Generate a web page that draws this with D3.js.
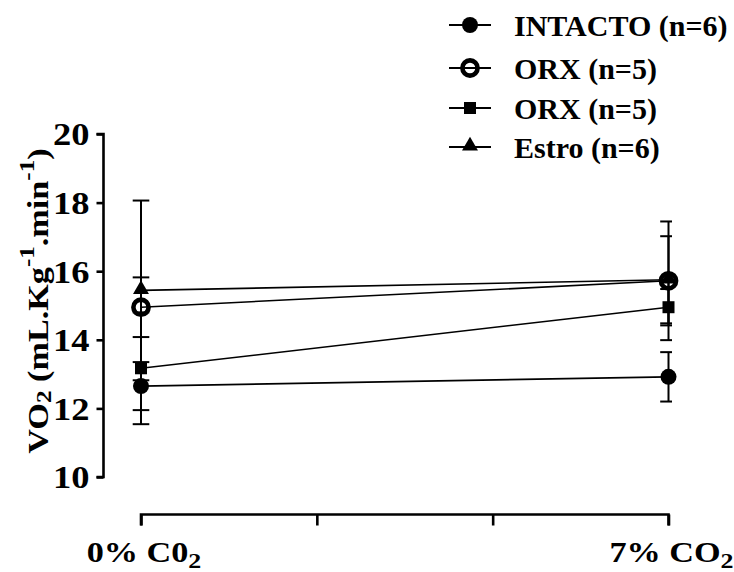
<!DOCTYPE html>
<html>
<head>
<meta charset="utf-8">
<script src="https://cdn.jsdelivr.net/npm/d3@7"></script>
<style>
  html, body { margin: 0; padding: 0; background: #fff; }
  svg text { font-family: "Liberation Serif", "Times New Roman", serif; font-weight: bold; fill: #000; }
</style>
</head>
<body>
<svg id="chart" width="734" height="572"></svg>
<script>
// Conditions on the x axis (label text, subscript) and their slot on the axis
const conditions = ["0% C0", "7% CO"];
const conditionSub = ["2", "2"];
const conditionSlot = [0, 3];
const axisSlots = [0, 1, 2, 3];

// Y axis ticks
const yTicks = [10, 12, 14, 16, 18, 20];

// Group names, symbols and values (mean and SEM per condition)
const groupNames = ["INTACTO (n=6)", "ORX (n=5)", "ORX (n=5)", "Estro (n=6)"];
const groupSymbols = ["circle", "openCircle", "square", "triangle"];
const intactoMean = [12.65, 12.92];
const intactoSem  = [0.70, 0.72];
const orxOpenMean = [14.95, 15.72];
const orxOpenSem  = [0.87, 1.73];
const orxSquareMean = [13.17, 14.95];
const orxSquareSem  = [1.63, 0.53];
const estroMean = [15.44, 15.75];
const estroSem  = [2.62, 1.27];

const groups = [
  { name: groupNames[0], symbol: groupSymbols[0], mean: intactoMean, sem: intactoSem },
  { name: groupNames[1], symbol: groupSymbols[1], mean: orxOpenMean, sem: orxOpenSem },
  { name: groupNames[2], symbol: groupSymbols[2], mean: orxSquareMean, sem: orxSquareSem },
  { name: groupNames[3], symbol: groupSymbols[3], mean: estroMean, sem: estroSem }
];

// Wide lettering used for axis text
const wide = 1.18;

const svg = d3.select("#chart");
svg.append("rect").attr("width", 734).attr("height", 572).attr("fill", "#fff");

const y = d3.scaleLinear().domain([10, 20]).range([477, 134]);
const x = d3.scaleLinear().domain([0, 3]).range([141, 668.5]);

// Y axis
const yAxisX = 103.5;
const yAxis = svg.append("g")
  .attr("transform", `translate(${yAxisX},0)`)
  .call(d3.axisLeft(y).tickValues(yTicks).tickSize(7).tickPadding(6).tickFormat(d3.format("d")));
yAxis.select(".domain").attr("stroke", "#000").attr("stroke-width", 2.6)
  .attr("d", `M-7,${y(20)}H0V${y(10)}H-7`);
yAxis.selectAll(".tick line").attr("stroke", "#000").attr("stroke-width", 2.6);
yAxis.selectAll(".tick text")
  .attr("x", null)
  .attr("transform", `translate(-14,0) scale(${wide - 0.04},1)`)
  .attr("font-size", 32).attr("font-family", "Liberation Serif").attr("font-weight", "bold")
  .attr("dy", "0.34em").attr("fill", "#000");

// X axis (offset below the plot)
const xAxisY = 514.5;
const xAxis = svg.append("g")
  .attr("transform", `translate(0,${xAxisY})`)
  .call(d3.axisBottom(x).tickValues(axisSlots).tickSize(11).tickFormat(""));
xAxis.select(".domain").attr("stroke", "#000").attr("stroke-width", 2.6)
  .attr("d", `M${x(0)},11V0H${x(3)}V11`);
xAxis.selectAll(".tick line").attr("stroke", "#000").attr("stroke-width", 2.6);

// Condition labels with subscript
conditions.forEach((c, i) => {
  const t = svg.append("text")
    .attr("transform", `translate(${x(conditionSlot[i]) + 3},562) scale(${wide},1)`)
    .attr("text-anchor", "middle")
    .attr("font-size", 29);
  t.append("tspan").text(c);
  t.append("tspan").attr("font-size", 22).attr("dy", 6).text(conditionSub[i]);
});

// Y axis title
const yTitle = svg.append("text")
  .attr("transform", `translate(48,301) rotate(-90) scale(${wide - 0.04},1)`)
  .attr("text-anchor", "middle")
  .attr("font-size", 30);
yTitle.append("tspan").text("VO");
yTitle.append("tspan").attr("font-size", 22).attr("dy", 3).text("2");
yTitle.append("tspan").attr("dy", -3).text(" (mL.Kg");
yTitle.append("tspan").attr("font-size", 22).attr("dy", -14).text("-1");
yTitle.append("tspan").attr("dy", 14).text(".min");
yTitle.append("tspan").attr("font-size", 22).attr("dy", -14).text("-1");
yTitle.append("tspan").attr("dy", 14).text(")");

// Marker drawing
function drawMarker(g, symbol, cx, cy) {
  if (symbol === "circle") {
    g.append("circle").attr("cx", cx).attr("cy", cy).attr("r", 8).attr("fill", "#000");
  } else if (symbol === "openCircle") {
    g.append("circle").attr("cx", cx).attr("cy", cy).attr("r", 7.6)
      .attr("fill", "none").attr("stroke", "#000").attr("stroke-width", 4.6);
  } else if (symbol === "square") {
    g.append("rect").attr("x", cx - 6).attr("y", cy - 6).attr("width", 12).attr("height", 12).attr("fill", "#000");
  } else if (symbol === "triangle") {
    g.append("path").attr("d", d3.symbol(d3.symbolTriangle, 110)()).attr("transform", `translate(${cx},${cy - 1})`).attr("fill", "#000");
  }
}

// Clip region for the error bars (right edge of the plot)
svg.append("defs").append("clipPath").attr("id", "plotClip")
  .append("rect").attr("x", 0).attr("y", 0).attr("width", x(3) + 3.5).attr("height", 572);

const plot = svg.append("g");

// Connecting lines
const line = d3.line().x((d, i) => x(conditionSlot[i])).y(d => y(d));
groups.forEach(gp => {
  plot.append("path").datum(gp.mean).attr("d", line)
    .attr("fill", "none").attr("stroke", "#000").attr("stroke-width", 1.6);
});

// Error bars
const errG = plot.append("g").attr("clip-path", "url(#plotClip)");
groups.forEach(gp => {
  gp.mean.forEach((m, i) => {
    const cx = x(conditionSlot[i]);
    const hi = y(m + gp.sem[i]), lo = y(m - gp.sem[i]);
    errG.append("line").attr("x1", cx).attr("x2", cx).attr("y1", hi).attr("y2", lo)
      .attr("stroke", "#000").attr("stroke-width", 2);
    [hi, lo].forEach(yy => {
      errG.append("line").attr("x1", cx - 8.3).attr("x2", cx + 8.3).attr("y1", yy).attr("y2", yy)
        .attr("stroke", "#000").attr("stroke-width", 2);
    });
  });
});

// Markers
groups.forEach(gp => {
  gp.mean.forEach((m, i) => drawMarker(plot, gp.symbol, x(conditionSlot[i]), y(m)));
});

// Legend
const legendRows = [25, 68, 108, 147];
const legend = svg.append("g");
groups.forEach((gp, i) => {
  const ly = legendRows[i];
  legend.append("line").attr("x1", 449).attr("x2", 491).attr("y1", ly).attr("y2", ly)
    .attr("stroke", "#000").attr("stroke-width", 2.2);
  drawMarker(legend, gp.symbol, 470, ly);
  legend.append("text").attr("x", 514).attr("y", ly).attr("dy", "0.35em")
    .attr("font-size", 30).text(gp.name);
});
</script>
</body>
</html>
